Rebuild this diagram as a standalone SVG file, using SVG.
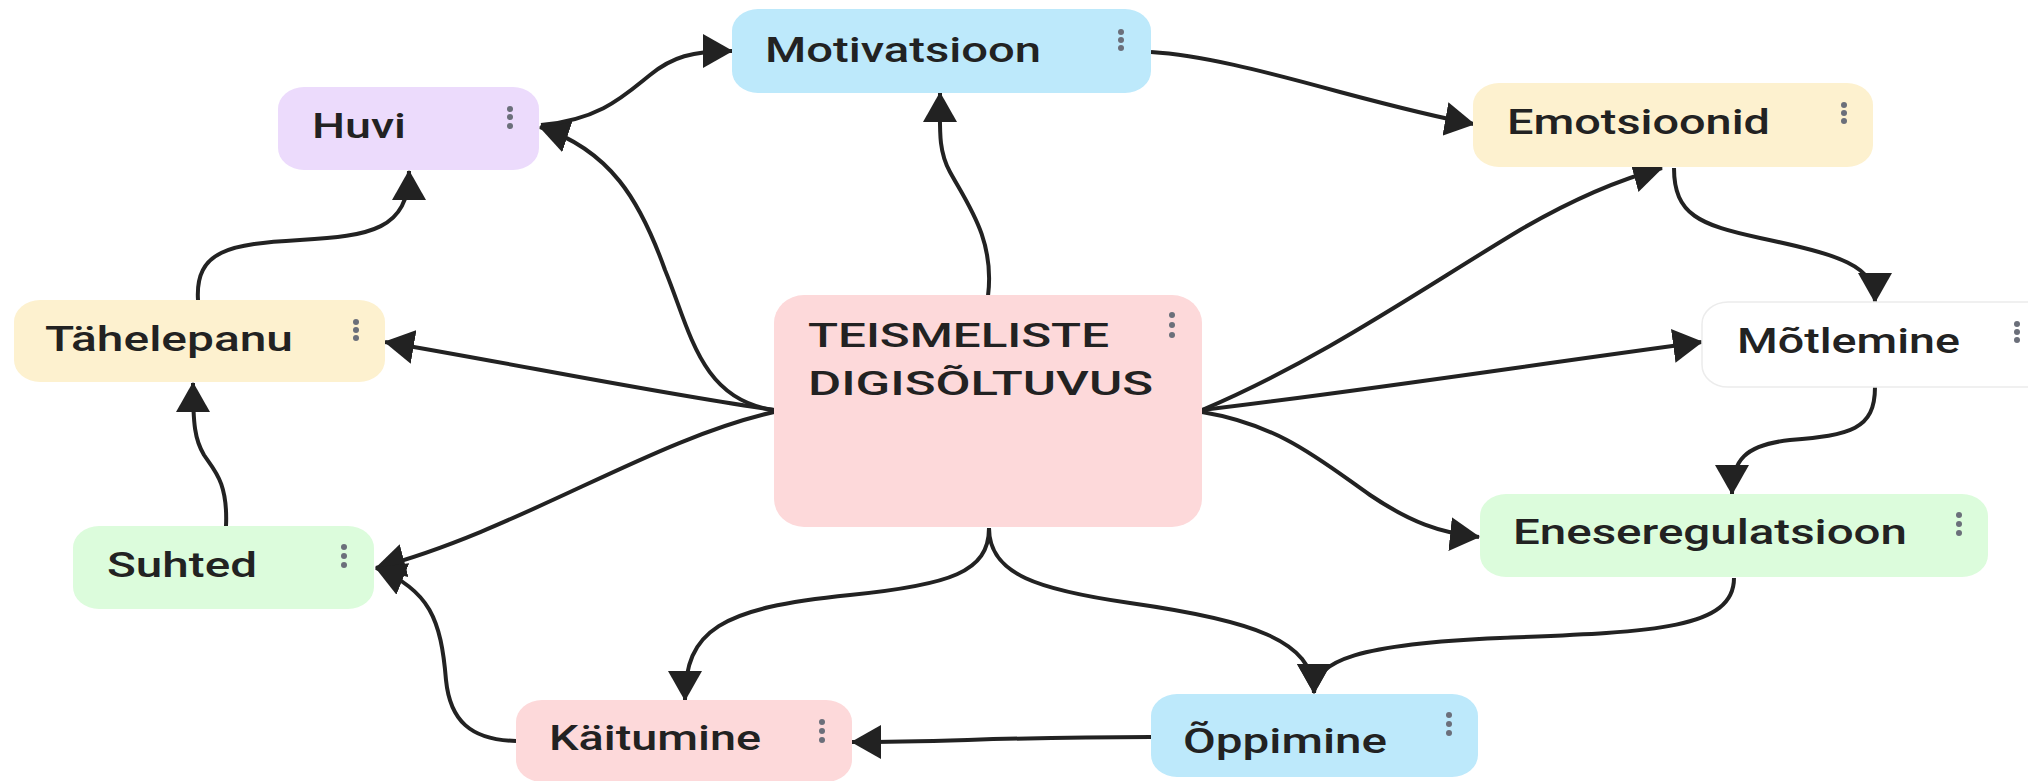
<svg xmlns="http://www.w3.org/2000/svg" width="2028" height="781" viewBox="0 0 2028 781">
<style>
.lbl{font-family:Roboto,"Liberation Sans",Arial,sans-serif;font-weight:500;font-size:35px;fill:#222}
.big{font-size:34px}
.dot{fill:#6b6f7a}
.edge{fill:none;stroke:#222;stroke-width:4;marker-end:url(#ah)}
.blue{fill:#bde9fb}.lav{fill:#ecdbfc}.cream{fill:#fdf1cf}.pink{fill:#fdd9da}.green{fill:#dcfcdc}.white{fill:#fff;stroke:#ececec;stroke-width:1.5}
</style>
<defs>
<marker id="ah" viewBox="0 0 30 34" refX="29" refY="17" markerWidth="30" markerHeight="34" markerUnits="userSpaceOnUse" orient="auto">
<path d="M0,0 L30,17 L0,34 z" fill="#222"/>
</marker>
</defs>
<rect width="2028" height="781" fill="#fff"/>
<g id="connectors">
<path class="edge" d="M988 296 C 995 240 968 205 950 172 C 938 150 940 130 940 93"/>
<path class="edge" d="M774 410 C 700 400 690 330 665 270 C 640 200 610 150 540 127"/>
<path class="edge" d="M774 410 C 650 392 520 365 385 342"/>
<path class="edge" d="M774 412 C 650 440 520 530 376 568"/>
<path class="edge" d="M541 125 C 600 120 625 95 650 75 C 672 57 692 51 732 51"/>
<path class="edge" d="M198 300 C 195 250 230 244 300 240 C 370 236 409 230 409 171"/>
<path class="edge" d="M226 526 C 228 482 214 470 204 455 C 195 440 193 425 193 383"/>
<path class="edge" d="M516 741 C 470 740 450 720 446 680 C 441 620 430 590 376 568"/>
<path class="edge" d="M989 528 C 989 572 950 585 850 595 C 720 608 685 630 685 700"/>
<path class="edge" d="M989 528 C 989 575 1040 590 1130 603 C 1250 620 1314 640 1314 693"/>
<path class="edge" d="M1734 578 C 1734 630 1650 632 1500 638 C 1360 644 1314 660 1314 693"/>
<path class="edge" d="M1151 737 C 1000 737 950 742 852 742"/>
<path class="edge" d="M1151 52 C 1200 55 1260 70 1340 92 C 1400 108 1440 118 1474 124"/>
<path class="edge" d="M1202 410 C 1320 360 1420 290 1520 230 C 1580 195 1625 178 1662 168"/>
<path class="edge" d="M1202 410 C 1370 390 1530 365 1702 342"/>
<path class="edge" d="M1202 412 C 1280 425 1320 460 1370 495 C 1410 522 1440 533 1479 537"/>
<path class="edge" d="M1674 168 C 1674 215 1700 225 1760 238 C 1840 255 1875 265 1875 302"/>
<path class="edge" d="M1875 387 C 1875 430 1850 435 1790 440 C 1745 445 1732 460 1732 494"/>
</g>
<g id="center">
<rect class="pink" x="774" y="295" width="428" height="232" rx="30" ry="28"/>
<text class="lbl big" x="808" y="347" textLength="301" lengthAdjust="spacingAndGlyphs">TEISMELISTE</text>
<text class="lbl big" x="808" y="395" textLength="345" lengthAdjust="spacingAndGlyphs">DIGISÕLTUVUS</text>
<circle class="dot" cx="1172" cy="315" r="3"/><circle class="dot" cx="1172" cy="325" r="3"/><circle class="dot" cx="1172" cy="335" r="3"/>
</g>
<g id="motivatsioon">
<rect class="blue" x="732" y="9" width="419" height="84" rx="26" ry="22"/>
<text class="lbl" x="765" y="62" textLength="276" lengthAdjust="spacingAndGlyphs">Motivatsioon</text>
<circle class="dot" cx="1121" cy="32" r="3"/><circle class="dot" cx="1121" cy="40" r="3"/><circle class="dot" cx="1121" cy="48" r="3"/>
</g>
<g id="huvi">
<rect class="lav" x="278" y="87" width="261" height="83" rx="26" ry="22"/>
<text class="lbl" x="312" y="138" textLength="94" lengthAdjust="spacingAndGlyphs">Huvi</text>
<circle class="dot" cx="510" cy="109" r="3"/><circle class="dot" cx="510" cy="117" r="3"/><circle class="dot" cx="510" cy="126" r="3"/>
</g>
<g id="tahelepanu">
<rect class="cream" x="14" y="300" width="371" height="82" rx="26" ry="22"/>
<text class="lbl" x="45" y="351" textLength="248" lengthAdjust="spacingAndGlyphs">Tähelepanu</text>
<circle class="dot" cx="356" cy="322" r="3"/><circle class="dot" cx="356" cy="330" r="3"/><circle class="dot" cx="356" cy="338" r="3"/>
</g>
<g id="suhted">
<rect class="green" x="73" y="526" width="301" height="83" rx="26" ry="22"/>
<text class="lbl" x="107" y="577" textLength="150" lengthAdjust="spacingAndGlyphs">Suhted</text>
<circle class="dot" cx="344" cy="547" r="3"/><circle class="dot" cx="344" cy="556" r="3"/><circle class="dot" cx="344" cy="565" r="3"/>
</g>
<g id="kaitumine">
<rect class="pink" x="516" y="700" width="336" height="82" rx="26" ry="22"/>
<text class="lbl" x="549" y="750" textLength="212" lengthAdjust="spacingAndGlyphs">Käitumine</text>
<circle class="dot" cx="822" cy="722" r="3"/><circle class="dot" cx="822" cy="731" r="3"/><circle class="dot" cx="822" cy="740" r="3"/>
</g>
<g id="oppimine">
<rect class="blue" x="1151" y="694" width="327" height="83" rx="26" ry="22"/>
<text class="lbl" x="1183" y="753" textLength="204" lengthAdjust="spacingAndGlyphs">Õppimine</text>
<circle class="dot" cx="1449" cy="715" r="3"/><circle class="dot" cx="1449" cy="724" r="3"/><circle class="dot" cx="1449" cy="733" r="3"/>
</g>
<g id="emotsioonid">
<rect class="cream" x="1473" y="83" width="400" height="84" rx="26" ry="22"/>
<text class="lbl" x="1507" y="134" textLength="263" lengthAdjust="spacingAndGlyphs">Emotsioonid</text>
<circle class="dot" cx="1844" cy="105" r="3"/><circle class="dot" cx="1844" cy="113" r="3"/><circle class="dot" cx="1844" cy="121" r="3"/>
</g>
<g id="motlemine">
<rect class="white" x="1702" y="302" width="360" height="85" rx="26" ry="22"/>
<text class="lbl" x="1737" y="353" textLength="223" lengthAdjust="spacingAndGlyphs">Mõtlemine</text>
<circle class="dot" cx="2017" cy="324" r="3"/><circle class="dot" cx="2017" cy="332" r="3"/><circle class="dot" cx="2017" cy="340" r="3"/>
</g>
<g id="eneseregulatsioon">
<rect class="green" x="1480" y="494" width="508" height="83" rx="26" ry="22"/>
<text class="lbl" x="1513" y="544" textLength="394" lengthAdjust="spacingAndGlyphs">Eneseregulatsioon</text>
<circle class="dot" cx="1959" cy="515" r="3"/><circle class="dot" cx="1959" cy="524" r="3"/><circle class="dot" cx="1959" cy="533" r="3"/>
</g>
</svg>
